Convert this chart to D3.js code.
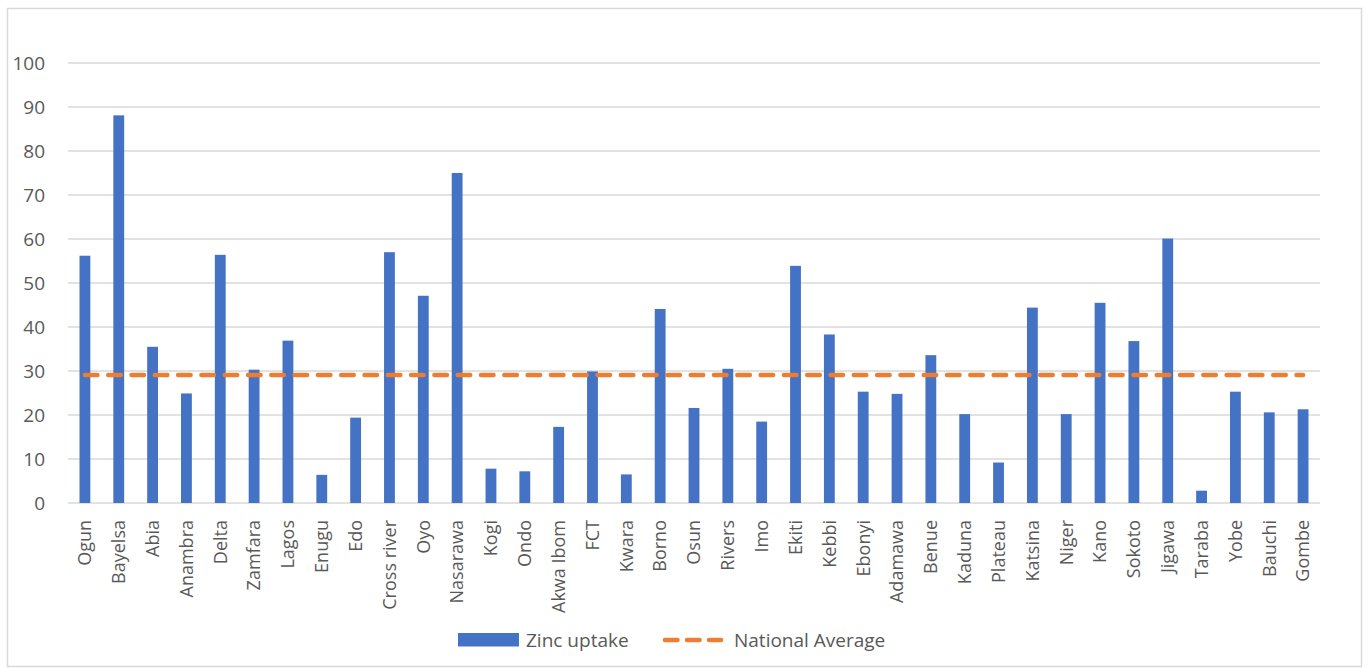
<!DOCTYPE html>
<html>
<head>
<meta charset="utf-8">
<script src="https://cdn.jsdelivr.net/npm/d3@7"></script>
<style>
  body { margin: 0; background: #fff; }
  text { font-family: "Open Sans", sans-serif; fill: #595959; }
</style>
</head>
<body>
<svg id="chart" width="1367" height="668"></svg>
<script>
let states = ["Ogun", "Bayelsa", "Abia", "Anambra", "Delta", "Zamfara", "Lagos", "Enugu", "Edo",
    "Cross river", "Oyo", "Nasarawa", "Kogi", "Ondo", "Akwa Ibom", "FCT", "Kwara", "Borno", "Osun",
    "Rivers", "Imo", "Ekiti", "Kebbi", "Ebonyi", "Adamawa", "Benue", "Kaduna", "Plateau", "Katsina",
    "Niger", "Kano", "Sokoto", "Jigawa", "Taraba", "Yobe", "Bauchi", "Gombe"];
let zincUptake = [56.2, 88.1, 35.5, 24.9, 56.4, 30.3, 36.9, 6.4, 19.4,
    57.0, 47.1, 75.0, 7.8, 7.2, 17.3, 29.9, 6.5, 44.1, 21.6,
    30.5, 18.5, 53.9, 38.3, 25.3, 24.8, 33.6, 20.2, 9.2, 44.4,
    20.2, 45.5, 36.8, 60.1, 2.8, 25.3, 20.6, 21.3];
let nationalAverage = 29.1;
let yTicks = [0, 10, 20, 30, 40, 50, 60, 70, 80, 90, 100];

let svg = d3.select("#chart"),
    margin = {top: 63, right: 47, bottom: 165, left: 68},
    width = 1367 - margin.left - margin.right,
    height = 668 - margin.top - margin.bottom;

// outer chart frame
svg.append("rect")
    .attr("x", 7.5).attr("y", 8.5)
    .attr("width", 1354).attr("height", 658)
    .attr("fill", "none")
    .attr("stroke", "#d9d9d9")
    .attr("stroke-width", 1.5);

let g = svg.append("g").attr("transform", "translate(" + margin.left + "," + margin.top + ")");

let scaleX = d3.scaleBand()
    .domain(states)
    .range([0, width])
    .paddingInner(0.68)
    .paddingOuter(0.34);

let scaleY = d3.scaleLinear()
    .domain([0, 100])
    .range([height, 0]);

// gridlines
g.selectAll(".grid")
    .data(yTicks)
    .enter().append("line")
    .attr("class", "grid")
    .attr("x1", 0).attr("x2", width)
    .attr("y1", d => scaleY(d)).attr("y2", d => scaleY(d))
    .attr("stroke", "#d9d9d9")
    .attr("stroke-width", 1.5);

// y labels
g.selectAll(".ylab")
    .data(yTicks)
    .enter().append("text")
    .attr("class", "ylab")
    .attr("x", -23)
    .attr("y", d => scaleY(d))
    .attr("dy", "0.35em")
    .attr("text-anchor", "end")
    .style("font-size", "19px")
    .text(d => d);

// bars
g.selectAll(".bar")
    .data(zincUptake)
    .enter().append("rect")
    .attr("class", "bar")
    .attr("x", (d, i) => scaleX(states[i]))
    .attr("y", d => scaleY(d))
    .attr("width", scaleX.bandwidth())
    .attr("height", d => scaleY(0) - scaleY(d))
    .attr("fill", "#4472c4");

// national average dashed line
let cx = s => scaleX(s) + scaleX.bandwidth() / 2;
g.append("line")
    .attr("x1", cx(states[0]))
    .attr("x2", cx(states[states.length - 1]))
    .attr("y1", scaleY(nationalAverage))
    .attr("y2", scaleY(nationalAverage))
    .attr("stroke", "#ed7d31")
    .attr("stroke-width", 4.5)
    .attr("stroke-linecap", "round")
    .attr("stroke-dasharray", "12.5 10.8");

// x labels
g.selectAll(".xlab")
    .data(states)
    .enter().append("text")
    .attr("class", "xlab")
    .attr("transform", d => "translate(" + cx(d) + "," + (height + 17) + ") rotate(-90)")
    .attr("dy", "0.35em")
    .attr("text-anchor", "end")
    .style("font-size", "18px")
    .text(d => d);

// legend
let legend = svg.append("g");
legend.append("rect")
    .attr("x", 458).attr("y", 633)
    .attr("width", 61).attr("height", 13.5)
    .attr("fill", "#4472c4");
legend.append("text")
    .attr("x", 526).attr("y", 640)
    .attr("dy", "0.35em")
    .style("font-size", "19px")
    .text("Zinc uptake");
legend.append("line")
    .attr("x1", 665).attr("x2", 721)
    .attr("y1", 640).attr("y2", 640)
    .attr("stroke", "#ed7d31")
    .attr("stroke-width", 4.5)
    .attr("stroke-linecap", "round")
    .attr("stroke-dasharray", "12.5 9.5");
legend.append("text")
    .attr("x", 734).attr("y", 640)
    .attr("dy", "0.35em")
    .style("font-size", "19px")
    .text("National Average");
</script>
</body>
</html>
